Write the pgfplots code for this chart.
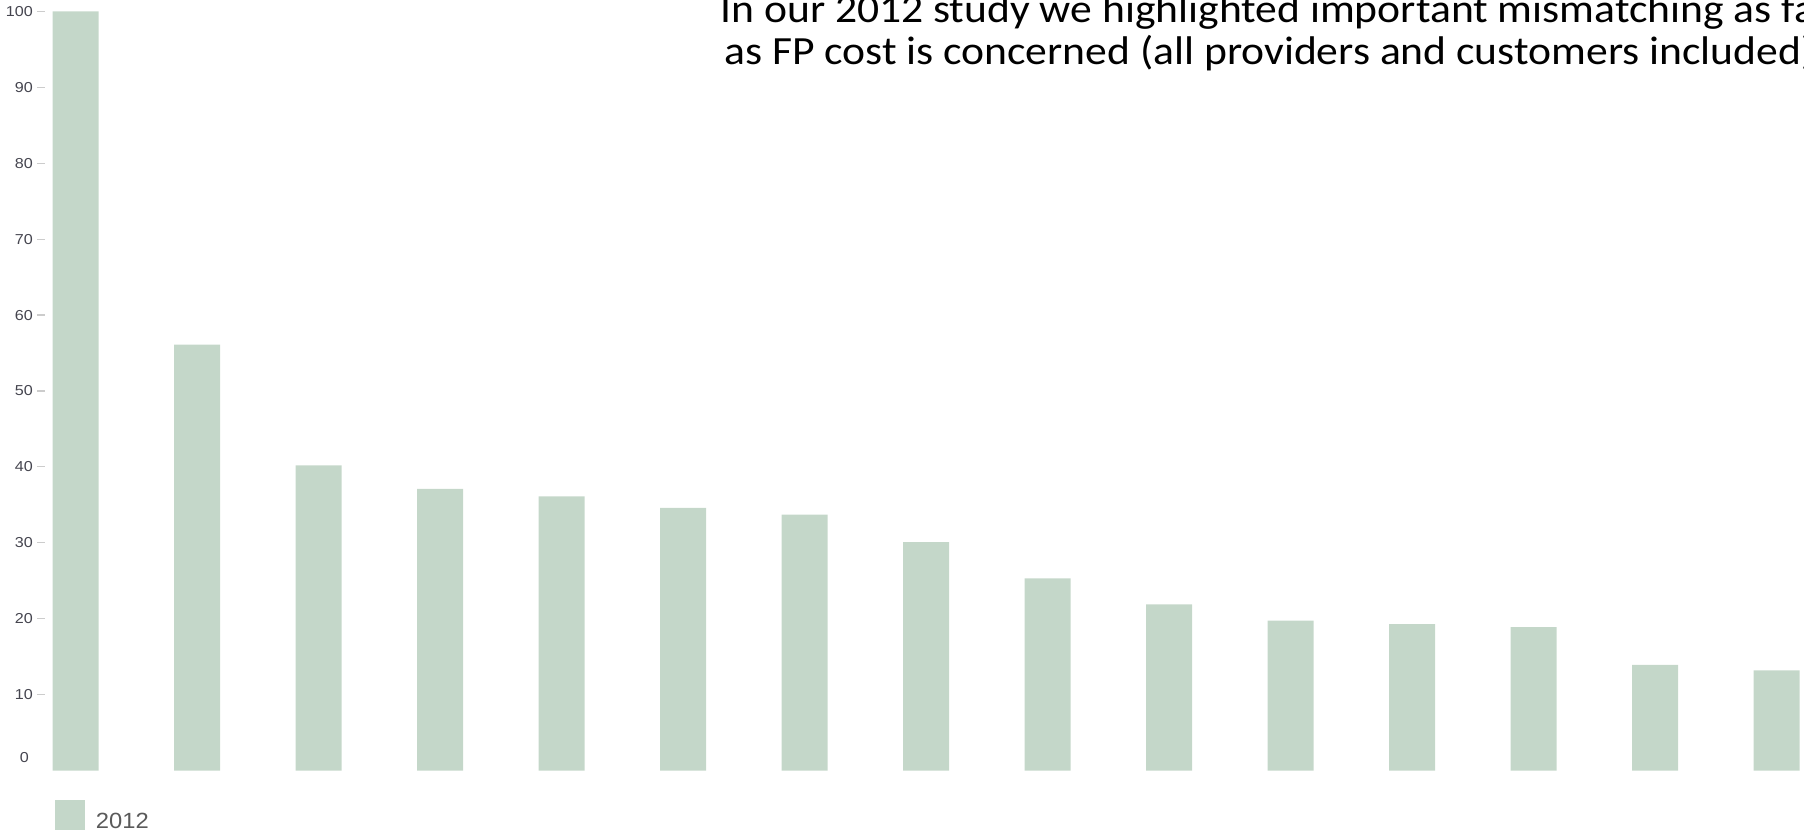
\documentclass[border=0pt]{standalone}
\usepackage{pgfplots}
\pgfplotsset{compat=1.18}
\usepackage{fontspec}
\setmainfont{Liberation Sans}
\newfontfamily\calibri{Carlito}
\definecolor{barfill}{HTML}{C4D7C9}
\definecolor{ticktext}{HTML}{45454F}
\definecolor{tickline}{HTML}{CCCCCC}
\definecolor{legendtext}{HTML}{5A5A5A}

\begin{document}
\begin{tikzpicture}
% the reference is a crop of a (slightly widened) slide: fix the page to it
\path[use as bounding box] (0pt,0pt) rectangle (902pt,415pt);
\clip (0pt,0pt) rectangle (902pt,415pt);

\begin{axis}[
    at={(22.65pt,29.75pt)}, anchor=south west,
    scale only axis,
    width=902.1pt, height=379.5pt,
    xmin=-0.25, xmax=14.6,
    ymin=0, ymax=100,
    axis lines*=left,
    axis line style={draw=none},
    xtick=\empty,
    ytick={10,20,...,100},
    tick align=outside,
    major tick length=4pt,
    tick style={draw=tickline, line width=0.6pt},
    yticklabel={\scalebox{1.12}[1]{\pgfmathprintnumber{\tick}}},
    /pgf/number format/assume math mode=true,
    yticklabel style={font=\fontsize{7.2}{8}\selectfont, text=ticktext,
        anchor=east, inner sep=0pt, xshift=-2pt},
    extra y ticks={0},
    extra y tick labels={\scalebox{1.12}[1]{0}},
    extra y tick style={major tick length=0pt,
        yticklabel style={yshift=6.25pt, xshift=-6pt}},
    legend style={at={(axis description cs:0,0)}, anchor=north west,
        xshift=4.85pt, yshift=-14.75pt, draw=none, fill=none,
        inner sep=0pt, outer sep=0pt,
        nodes={inner sep=0pt, text=legendtext},
        font=\fontsize{11}{13}\selectfont,
        column sep=5.5pt},
    legend image code/.code={\fill[barfill] (0pt,-3.65pt) rectangle (15pt,11.35pt);},
]
\addplot[ybar, bar width=23pt, fill=barfill, draw=none] coordinates {
    (0,100) (1,56.1) (2,40.2) (3,37.1) (4,36.1) (5,34.6) (6,33.7) (7,30.1)
    (8,25.3) (9,21.9) (10,19.75) (11,19.3) (12,18.9) (13,13.9) (14,13.2)
};
\addlegendentry{\scalebox{1.08}[1]{2012}}
\end{axis}

\node[anchor=base west, inner sep=0pt, font=\calibri\fontsize{20}{24}\selectfont]
    at (360pt,403.65pt) {\scalebox{1.09}[1]{In our 2012 study we highlighted important mismatching as far}};
\node[anchor=base west, inner sep=0pt, font=\calibri\fontsize{20}{24}\selectfont]
    at (362pt,382.5pt) {\scalebox{1.09}[1]{as FP cost is concerned (all providers and customers included)}};
\end{tikzpicture}
\end{document}
